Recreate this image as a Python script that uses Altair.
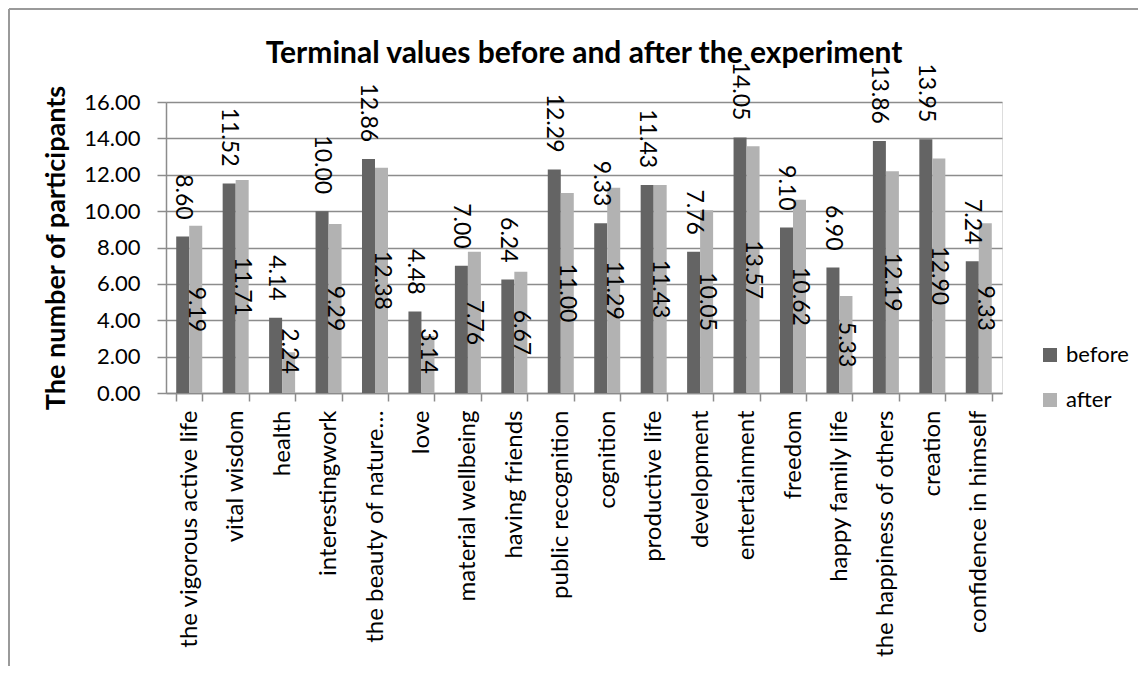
import altair as alt
import pandas as pd

CATEGORIES = [
    "the vigorous active life", "vital wisdom", "health", "interestingwork",
    "the beauty of nature…", "love", "material wellbeing", "having friends",
    "public recognition", "cognition", "productive life", "development",
    "entertainment", "freedom", "happy family life", "the happiness of others",
    "creation", "confidence in himself",
]
BEFORE = [8.60, 11.52, 4.14, 10.00, 12.86, 4.48, 7.00, 6.24, 12.29, 9.33,
          11.43, 7.76, 14.05, 9.10, 6.90, 13.86, 13.95, 7.24]
AFTER = [9.19, 11.71, 2.24, 9.29, 12.38, 3.14, 7.76, 6.67, 11.00, 11.29,
         11.43, 10.05, 13.57, 10.62, 5.33, 12.19, 12.90, 9.33]
SERIES = ["before", "after"]
COLORS = ["#646464", "#b2b2b2"]
Y_TICKS = [0, 2, 4, 6, 8, 10, 12, 14, 16]

rows = []
for c, b, a in zip(CATEGORIES, BEFORE, AFTER):
    rows.append({"cat": c, "series": "before", "value": b})
    rows.append({"cat": c, "series": "after", "value": a})
df = pd.DataFrame(rows)

FONT = "Lato"
GRID = "#8c8c8c"
W, H = 836, 291

x_axis = alt.Axis(labelAngle=-90, labelFontSize=24, labelFont=FONT,
                  labelColor="black", labelLimit=0, labelPadding=9,
                  tickBand="extent", tickSize=8, tickColor=GRID, tickWidth=1.5,
                  domainColor=GRID, domainWidth=1.5, grid=False)
x_scale = alt.Scale(paddingInner=0.44, paddingOuter=0.22)
y_axis = alt.Axis(values=Y_TICKS, format=".2f", title="The number of participants",
                  labelOverlap=False,
                  titleFont=FONT, titleFontSize=27, titleFontWeight="bold",
                  titleColor="black", titleAngle=-90, titleX=-110, titleY=H / 2,
                  titleAlign="center", titleBaseline="middle",
                  labelFont=FONT, labelFontSize=22, labelColor="black",
                  labelPadding=17, tickSize=9, tickColor=GRID, tickWidth=1.5,
                  domainColor=GRID, domainWidth=1.5,
                  gridColor=GRID, gridWidth=1.5)
y_scale = alt.Scale(domain=[0, 16], nice=False)


def xenc():
    return alt.X("cat:N", sort=CATEGORIES, title=None, scale=x_scale, axis=x_axis)


xoff = alt.XOffset("series:N", sort=SERIES, scale=alt.Scale(domain=SERIES))

bars = alt.Chart(df).mark_bar().encode(
    x=xenc(),
    xOffset=xoff,
    y=alt.Y("value:Q", scale=y_scale, axis=y_axis),
    color=alt.Color("series:N", sort=SERIES,
                    scale=alt.Scale(domain=SERIES, range=COLORS),
                    legend=alt.Legend(title=None, orient="none", legendX=873, legendY=242,
                                      symbolType="square", symbolSize=196,
                                      symbolStrokeWidth=0, labelFont=FONT,
                                      labelFontSize=22, labelColor="black",
                                      rowPadding=23, labelOffset=5, padding=0)),
)

before_labels = alt.Chart(df).transform_filter(
    alt.datum.series == "before"
).mark_text(angle=90, align="right", baseline="middle", dx=-17,
            font=FONT, fontSize=23, color="black").encode(
    x=xenc(),
    xOffset=xoff,
    y=alt.Y("value:Q", scale=y_scale, axis=y_axis),
    text=alt.Text("value:Q", format=".2f"),
)

after_labels = alt.Chart(df).transform_filter(
    alt.datum.series == "after"
).transform_calculate(
    pos="max(datum.value / 2, 2.31)"
).mark_text(angle=90, align="center", baseline="middle",
            font=FONT, fontSize=23, color="black").encode(
    x=xenc(),
    xOffset=xoff,
    y=alt.Y("pos:Q", scale=y_scale, axis=y_axis),
    text=alt.Text("value:Q", format=".2f"),
)

frame_df = pd.DataFrame({"k": [0]})
left_border = alt.Chart(frame_df).mark_rule(color="#9a9a9a", strokeWidth=2).encode(
    x=alt.value(-157), y=alt.value(-93), y2=alt.value(564))
top_border = alt.Chart(frame_df).mark_rule(color="#9a9a9a", strokeWidth=2).encode(
    x=alt.value(-157), x2=alt.value(972), y=alt.value(-93))

chart = alt.layer(bars, before_labels, after_labels, left_border, top_border).properties(
    width=W, height=H,
    title=alt.TitleParams("Terminal values before and after the experiment",
                          font=FONT, fontSize=30, fontWeight="bold", color="black",
                          anchor="middle", frame="group", baseline="alphabetic",
                          offset=-85),
    autosize=alt.AutoSizeParams(type="none"),
    padding={"left": 158, "top": 94, "right": 136, "bottom": 273},
).configure_view(stroke=None).configure(background="white")

chart.save("out.html", embed_options={"renderer": "svg", "actions": False})
